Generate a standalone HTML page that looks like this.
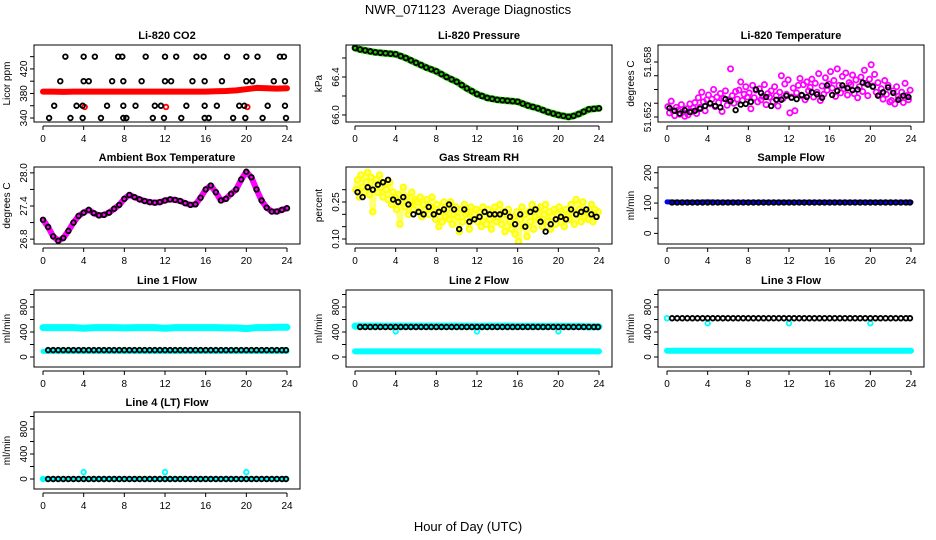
<!DOCTYPE html>
<html><head><meta charset="utf-8"><style>
html,body{margin:0;padding:0;background:#fff;}
svg{display:block;font-family:"Liberation Sans",Arial,sans-serif;}
</style></head><body>
<svg id="chart" width="936" height="540" viewBox="0 0 936 540" xmlns="http://www.w3.org/2000/svg">
<rect x="0" y="0" width="936" height="540" fill="#fff"/>
<text x="468" y="14" text-anchor="middle" font-size="13">NWR_071123&#160; Average Diagnostics</text>
<text x="468" y="531" text-anchor="middle" font-size="13">Hour of Day (UTC)</text>
</svg>
<script>
// ---------- data ----------
const xTicks = [0,4,8,12,16,20,24];
const hours25 = [0,1,2,3,4,5,6,7,8,9,10,11,12,13,14,15,16,17,18,19,20,21,22,23,24];
const hours49 = [0,0.5,1,1.5,2,2.5,3,3.5,4,4.5,5,5.5,6,6.5,7,7.5,8,8.5,9,9.5,10,10.5,11,11.5,12,12.5,13,13.5,14,14.5,15,15.5,16,16.5,17,17.5,18,18.5,19,19.5,20,20.5,21,21.5,22,22.5,23,23.5,24];
const hours48 = [0.5,1,1.5,2,2.5,3,3.5,4,4.5,5,5.5,6,6.5,7,7.5,8,8.5,9,9.5,10,10.5,11,11.5,12,12.5,13,13.5,14,14.5,15,15.5,16,16.5,17,17.5,18,18.5,19,19.5,20,20.5,21,21.5,22,22.5,23,23.5,23.9];
const hoursQ48 = [0.25,0.75,1.25,1.75,2.25,2.75,3.25,3.75,4.25,4.75,5.25,5.75,6.25,6.75,7.25,7.75,8.25,8.75,9.25,9.75,10.25,10.75,11.25,11.75,12.25,12.75,13.25,13.75,14.25,14.75,15.25,15.75,16.25,16.75,17.25,17.75,18.25,18.75,19.25,19.75,20.25,20.75,21.25,21.75,22.25,22.75,23.25,23.75];

// CO2
const co2Red = [383,383,382.5,383,383,383,383,383,383,383,383,383,383,383,383,383,383,383.5,384,385,387,389,388.5,388,388.5];
const co2BlackHours = [2.2,4,5.1,7.4,7.8,10.1,12,13.1,15.1,15.8,18.1,20,21.1,23.3,23.7, 1.7,4,4.5,6.8,7.9,9.7,12,12.6,14.7,15.9,17.6,20,20.6,22.7,23.8, 1.1,3.3,3.9,6.3,7.9,9.1,11,11.6,14.1,15.9,17.1,19.3,19.8,22.1,23.8, 0.6,2.7,3.9,5.7,7.9,8.2,10.8,11.9,13.6,15.9,16.3,18.7,19.9,21.6,23.9];
const co2BlackVals = [440,440,440,440,440,440,440,440,440,440,440,440,440,440,440, 400,400,400,400,400,400,400,400,400,400,400,400,400,400,400, 360,360,360,360,360,360,360,360,360,360,360,360,360,360,360, 340,340,340,340,340,340,340,340,340,340,340,340,340,340,340];
const co2RedPtHours = [4.1,12.1,20.1];
const co2RedPtVals = [358,358,358];

// Pressure
const pressure = [66.705,66.69,66.68,66.67,66.66,66.655,66.65,66.645,66.64,66.62,66.6,66.575,66.55,66.525,66.5,66.48,66.46,66.43,66.4,66.375,66.35,66.315,66.28,66.25,66.22,66.2,66.18,66.17,66.16,66.155,66.15,66.145,66.14,66.12,66.1,66.085,66.07,66.05,66.03,66.015,66.0,65.99,65.98,65.99,66.01,66.035,66.06,66.065,66.07];

// Li-820 temperature (thousandths above 51.650)
const tempMagenta = [1.5,0.6,2.3,0.9,0.2,1.4, 1.0,0.4,1.8,0.7,0.1,1.2, 0.3,1.9,0.8,1.3,2.1,0.5, 2.8,1.4,3.6,2.2,0.9,2.5, 3.2,1.9,2.6,4.0,1.5,2.9, 2.1,3.4,0.8,2.7,3.8,1.7, 2.5,7.0,3.1,2.0,3.7,2.6, 3.9,5.1,2.4,3.3,4.4,2.9, 3.5,1.2,4.6,2.8,3.9,2.2, 4.1,2.5,3.0,4.7,1.8,3.4, 2.9,3.8,2.2,4.4,3.1,1.6, 3.6,6.0,2.7,4.8,3.3,5.4, 0.6,2.9,4.2,0.9,3.5,4.6, 5.6,3.1,4.7,2.5,5.1,3.8, 4.3,5.5,2.9,4.9,3.6,6.3, 2.4,4.5,3.3,5.7,3.9,4.8, 6.6,4.2,5.3,3.0,7.0,4.6, 3.5,5.9,4.1,6.4,3.2,5.0, 4.7,6.1,3.4,5.4,2.8,4.4, 5.8,3.7,6.8,4.9,3.1,5.5, 7.6,4.5,6.2,3.6,5.0,3.2, 4.1,2.6,5.3,3.3,4.6,2.2, 2.4,3.8,1.9,4.4,3.0,2.7, 3.6,2.1,4.9,3.1,2.5,3.9];
const tempBlack = [1.3,0.9,0.5,1.0,0.7,0.9,1.2,1.6,2.0,1.6,1.4,2.6,2.3,1.0,1.8,1.9,2.2,4.0,3.5,2.9,1.6,2.5,2.5,3.1,2.8,2.6,3.2,2.9,3.6,3.3,2.8,4.6,3.2,3.8,4.6,4.2,3.9,4.0,5.0,4.7,4.4,3.1,3.6,4.3,3.5,2.5,3.1,2.9];
const tempTickVals = [0,2,4,6,8];
const tempTickLabels = ["51.652","","","","51.658"];

// Ambient box temperature
const ambient = [27.15,27.02,26.85,26.77,26.82,26.95,27.1,27.22,27.28,27.33,27.27,27.23,27.24,27.28,27.35,27.42,27.53,27.6,27.56,27.52,27.49,27.47,27.46,27.47,27.5,27.52,27.51,27.49,27.45,27.42,27.43,27.55,27.7,27.77,27.65,27.5,27.53,27.62,27.7,27.88,28.02,27.92,27.7,27.5,27.37,27.3,27.3,27.33,27.36];

// Gas stream RH
const rhYellow = [0.30,0.34,0.27,0.36,0.31,0.29, 0.33,0.37,0.28,0.35,0.21,0.32, 0.34,0.29,0.36,0.31,0.27,0.33, 0.30,0.26,0.33,0.24,0.29,0.27, 0.22,0.28,0.16,0.25,0.31,0.23, 0.27,0.20,0.24,0.29,0.22,0.26, 0.25,0.21,0.27,0.19,0.24,0.22, 0.26,0.20,0.23,0.27,0.21,0.18, 0.24,0.15,0.21,0.17,0.25,0.19, 0.22,0.18,0.25,0.16,0.20,0.23, 0.19,0.13,0.22,0.17,0.24,0.20, 0.21,0.14,0.23,0.18,0.20,0.22, 0.17,0.21,0.15,0.23,0.19,0.16, 0.22,0.18,0.14,0.20,0.23,0.17, 0.19,0.24,0.16,0.21,0.13,0.20, 0.22,0.17,0.14,0.19,0.12,0.21, 0.09,0.18,0.23,0.15,0.20,0.11, 0.21,0.17,0.24,0.14,0.19,0.22, 0.18,0.23,0.15,0.20,0.24,0.17, 0.21,0.14,0.19,0.22,0.16,0.20, 0.23,0.17,0.20,0.15,0.22,0.19, 0.18,0.24,0.21,0.16,0.26,0.20, 0.22,0.17,0.25,0.19,0.21,0.18, 0.20,0.24,0.17,0.22,0.19,0.21];
const rhBlack = [0.29,0.27,0.31,0.30,0.32,0.33,0.34,0.26,0.25,0.27,0.24,0.20,0.21,0.20,0.23,0.20,0.21,0.22,0.24,0.22,0.14,0.22,0.17,0.18,0.19,0.21,0.20,0.20,0.20,0.21,0.19,0.16,0.20,0.15,0.21,0.22,0.17,0.13,0.16,0.18,0.19,0.18,0.22,0.20,0.21,0.22,0.20,0.19];

// Sample flow
const sampleBlue = [104,103,103,103,104,103,103,103,103,103,103,103,103,103,103,103,103,103,103,103,103,103,103,103,103];
const sampleBlack = [102,102,102,102,102,102,102,102,102,102,102,102,102,102,102,102,102,102,102,102,102,102,102,102,102,102,102,102,102,102,102,102,102,102,102,102,102,102,102,102,102,102,102,102,102,102,102,102];

// Line flows
const line1CyanTop = [470,470,470,470,460,470,470,470,465,470,470,470,460,470,470,470,470,470,465,465,455,470,470,475,475];
const line1CyanBot = [90,90,90,90,90,90,90,90,90,90,90,90,90,90,90,90,90,90,90,90,90,90,90,90,90];
const line1Black = [110,110,110,110,110,110,110,110,110,110,110,110,110,110,110,110,110,110,110,110,110,110,110,110,110,110,110,110,110,110,110,110,110,110,110,110,110,110,110,110,110,110,110,110,110,110,110,110];
const line2CyanTop = [495,495,495,495,495,495,495,495,495,495,495,495,490,495,495,495,490,490,490,490,490,490,490,485,485];
const line2CyanBot = [90,90,90,90,90,90,90,90,90,90,90,90,90,90,90,90,90,90,90,90,90,90,90,90,90];
const line2Black = [480,480,480,480,480,480,480,480,480,480,480,480,480,480,480,480,480,480,480,480,480,480,480,480,480,480,480,480,480,480,480,480,480,480,480,480,480,480,480,480,480,480,480,480,480,480,480,480];
const line2CyanPtHours = [4,12,20];
const line2CyanPtVals = [410,410,410];
const line3CyanBot = [100,100,100,100,100,100,100,100,100,100,100,100,100,100,100,100,100,100,100,100,100,100,100,100,100];
const line3Black = [620,620,620,620,620,620,620,620,620,620,620,620,620,620,620,620,620,620,620,620,620,620,620,620,620,620,620,620,620,620,620,620,620,620,620,620,620,620,620,620,620,620,620,620,620,620,620,620];
const line3CyanPtHours = [0,4,12,20];
const line3CyanPtVals = [620,540,540,540];
const line4CyanBot = [0,0,0,0,0,0,0,0,0,0,0,0,0,0,0,0,0,0,0,0,0,0,0,0,0];
const line4Black = [0,0,0,0,0,0,0,0,0,0,0,0,0,0,0,0,0,0,0,0,0,0,0,0,0,0,0,0,0,0,0,0,0,0,0,0,0,0,0,0,0,0,0,0,0,0,0,0];
const line4CyanPtHours = [0,4,12,20];
const line4CyanPtVals = [0,110,110,110];

const flowTicks = [0,200,400,600,800,1000];
const flowLabels = ["0","","400","","800",""];

// ---------- drawing ----------
const NS = "http://www.w3.org/2000/svg";
const svg = document.getElementById("chart");
const colX = [34,346,658], rowY = [45,167,290,412], W = 266, H = 77;
let clipN = 0;

function mk(tag, attrs, parent){
  const e = document.createElementNS(NS, tag);
  for (const k in attrs) e.setAttribute(k, attrs[k]);
  parent.appendChild(e);
  return e;
}

function panel(c, r, name, title, ylab, ymin, ymax, ticks, labels){
  const bx = colX[c], by = rowY[r];
  const g = mk("g", {}, svg);
  
  
  const x = h => bx + 9 + h * 244 / 24;
  const y = v => by + H - (v - ymin) / (ymax - ymin) * H;
  const t = mk("text", {x: bx + W/2, y: by - 6, "text-anchor": "middle", "font-size": 11, "font-weight": "bold"}, g);
  t.textContent = title;
  
  
  const yl = mk("text", {x: 0, y: 0, "text-anchor": "middle", "font-size": 10, transform: `translate(${bx-24},${by+H/2}) rotate(-90)`}, g);
  yl.textContent = ylab;
  
  
  const ya = mk("g", {}, g);
  
  
  const yt0 = y(ticks[0]), yt1 = y(ticks[ticks.length-1]);
  mk("line", {x1: bx, x2: bx, y1: yt0, y2: yt1, stroke: "#000", "stroke-width": 1}, ya);
  ticks.forEach((v, i) => {
    const yy = y(v);
    mk("line", {x1: bx-4, x2: bx, y1: yy, y2: yy, stroke: "#000"}, ya);
    if (labels[i]) {
      const tl = mk("text", {x: 0, y: 0, "text-anchor": "middle", "font-size": 10, transform: `translate(${bx-7},${yy}) rotate(-90)`}, ya);
      tl.textContent = labels[i];
      
      
    }
  });
  const xa = mk("g", {}, g);
  
  
  mk("line", {x1: x(0), x2: x(24), y1: by+H+4, y2: by+H+4, stroke: "#000"}, xa);
  xTicks.forEach(h => {
    mk("line", {x1: x(h), x2: x(h), y1: by+H+4, y2: by+H+8, stroke: "#000"}, xa);
    const tl = mk("text", {x: x(h), y: by+H+20, "text-anchor": "middle", "font-size": 10}, xa);
    tl.textContent = String(h);
    
    
  });
  const id = "clip" + (clipN++);
  const cp = mk("clipPath", {id: id}, g);
  mk("rect", {x: bx, y: by, width: W, height: H}, cp);
  const plot = mk("g", {"clip-path": `url(#${id})`}, g);
  
  
  const box = mk("rect", {x: bx, y: by, width: W, height: H, fill: "none", stroke: "#000", "stroke-width": 1}, g);
  
  
  return {x, y, plot};
}

function band(p, xs, vals, color, w, name){
  const pts = xs.map((h, i) => `${p.x(h).toFixed(1)},${p.y(vals[i]).toFixed(1)}`).join(" ");
  const pl = mk("polyline", {points: pts, fill: "none", stroke: color, "stroke-width": w, "stroke-linejoin": "round", "stroke-linecap": "round"}, p.plot);
  
  
}
function pts(p, xs, vals, color, name, r){
  const g = mk("g", {}, p.plot);
  
  
  xs.forEach((h, i) => {
    const c = mk("circle", {cx: p.x(h), cy: p.y(vals[i]), r: r || 2.3, fill: "none", stroke: color, "stroke-width": 1.8}, g);
    
    
  });
}
function idxHours(n){ return n.map((_, i) => i / 6 + 1/12); }

let p = panel(0,0,"co2","Li-820 CO2","Licor ppm",333.5,459,[340,360,380,400,420,440],["340","","380","","420",""]);
band(p, hours25, co2Red, "#ff0000", 6, "co2-red-series");
pts(p, co2RedPtHours, co2RedPtVals, "#ff0000", "co2-red-points");
pts(p, co2BlackHours, co2BlackVals, "#000", "co2-black-points");

p = panel(1,0,"pressure","Li-820 Pressure","kPa",65.926,66.737,[66.0,66.2,66.4,66.6],["66.0","","66.4",""]);
band(p, hours49, pressure, "#22cc00", 7, "pressure-green-series");
pts(p, hours49, pressure, "#000", "pressure-black-points");

p = panel(2,0,"li820-temp","Li-820 Temperature","degrees C",-0.73,10.47,tempTickVals,tempTickLabels);
pts(p, idxHours(tempMagenta), tempMagenta, "#ff00ff", "temp-magenta-points", 2.6);
pts(p, hoursQ48, tempBlack, "#000", "temp-black-points");

p = panel(0,1,"ambient","Ambient Box Temperature","degrees C",26.712,28.106,[26.8,27.1,27.4,27.7,28.0],["26.8","","27.4","","28.0"]);
band(p, hours49, ambient, "#ff00ff", 6, "ambient-magenta-series");
pts(p, hours49, ambient, "#000", "ambient-black-points");

p = panel(1,1,"rh","Gas Stream RH","percent",0.0797,0.392,[0.10,0.15,0.20,0.25,0.30],["0.10","","","0.25",""]);
pts(p, idxHours(rhYellow), rhYellow, "#ffff00", "rh-yellow-points", 2.8);
band(p, idxHours(rhYellow), rhYellow, "rgba(255,255,0,0.55)", 6, "rh-yellow-band");
pts(p, hoursQ48, rhBlack, "#000", "rh-black-points");

p = panel(2,1,"sample-flow","Sample Flow","ml/min",-35,219,[0,50,100,150,200],["0","","100","","200"]);
band(p, hours25, sampleBlue, "#0000ff", 5, "sample-blue-series");
pts(p, hours48, sampleBlack, "#000", "sample-black-points");

p = panel(0,2,"line1","Line 1 Flow","ml/min",-160,1072,flowTicks,flowLabels);
band(p, hours25, line1CyanTop, "#00ffff", 7, "line1-cyan-top");
band(p, hours25, line1CyanBot, "#00ffff", 5, "line1-cyan-bottom");
pts(p, hours48, line1Black, "#000", "line1-black-points");

p = panel(1,2,"line2","Line 2 Flow","ml/min",-160,1072,flowTicks,flowLabels);
band(p, hours25, line2CyanTop, "#00ffff", 7, "line2-cyan-top");
band(p, hours25, line2CyanBot, "#00ffff", 6, "line2-cyan-bottom");
pts(p, line2CyanPtHours, line2CyanPtVals, "#00ffff", "line2-cyan-points");
pts(p, hours48, line2Black, "#000", "line2-black-points");

p = panel(2,2,"line3","Line 3 Flow","ml/min",-160,1072,flowTicks,flowLabels);
band(p, hours25, line3CyanBot, "#00ffff", 6, "line3-cyan-bottom");
pts(p, line3CyanPtHours, line3CyanPtVals, "#00ffff", "line3-cyan-points");
pts(p, hours48, line3Black, "#000", "line3-black-points");

p = panel(0,3,"line4","Line 4 (LT) Flow","ml/min",-160,1072,flowTicks,flowLabels);
band(p, hours25, line4CyanBot, "#00ffff", 5, "line4-cyan-bottom");
pts(p, line4CyanPtHours, line4CyanPtVals, "#00ffff", "line4-cyan-points");
pts(p, hours48, line4Black, "#000", "line4-black-points");
</script>
</body></html>
